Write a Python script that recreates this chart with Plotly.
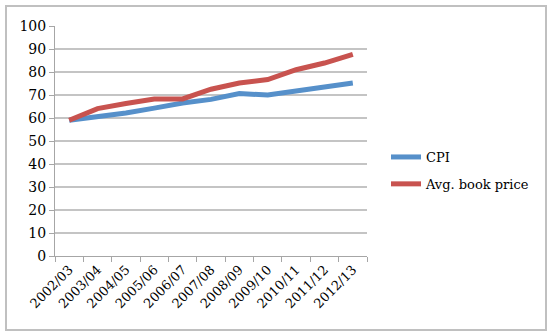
import plotly.graph_objects as go

years = ["2002/03", "2003/04", "2004/05", "2005/06", "2006/07", "2007/08",
         "2008/09", "2009/10", "2010/11", "2011/12", "2012/13"]
cpi = [59, 60.4, 62.2, 64.3, 66.5, 68.1, 70.6, 70, 71.6, 73.5, 75.2]
book_price = [59, 64.1, 66.3, 68.3, 68.3, 72.5, 75.2, 76.7, 81, 83.9, 87.7]
y_ticks = [0, 10, 20, 30, 40, 50, 60, 70, 80, 90, 100]

W, H = 553, 336
L, R, T, B = 55, 186, 26, 80
pw, ph = W - L - R, H - T - B

font_fam = "DejaVu Serif"

fig = go.Figure()
fig.add_trace(go.Scatter(x=years, y=cpi, name="CPI", mode="lines",
                         line=dict(color="#5690CA", width=5), legendgroup="a"))
fig.add_trace(go.Scatter(x=years, y=book_price, name="Avg. book price", mode="lines",
                         line=dict(color="#C8534F", width=5), legendgroup="b"))

def px_x(p):
    return (p - L) / pw

def px_y(p):
    return 1 - (p - T) / ph

fig.update_layout(
    width=W, height=H,
    margin=dict(l=L, r=R, t=T, b=B),
    paper_bgcolor="white", plot_bgcolor="white",
    font=dict(family=font_fam, size=13, color="black"),
    showlegend=True,
    legend=dict(x=px_x(386), y=px_y(142), xanchor="left", yanchor="top",
                traceorder="grouped", tracegroupgap=7,
                font=dict(family=font_fam, size=13, color="black"),
                bgcolor="rgba(0,0,0,0)", itemwidth=30),
    xaxis=dict(type="category", tickangle=-45, tickson="boundaries",
               ticks="outside", ticklen=5, tickcolor="#a6a6a6",
               showline=True, linecolor="#a6a6a6", linewidth=1,
               showgrid=False, tickfont=dict(family=font_fam, size=13),
               range=[-0.5, len(years) - 0.5]),
    yaxis=dict(range=[0, 100], tickvals=y_ticks, ticks="outside", ticklen=5,
               tickcolor="#a6a6a6", showline=True, linecolor="#a6a6a6", linewidth=1,
               showgrid=True, gridcolor="#c4c4c4", gridwidth=1.5,
               tickfont=dict(family=font_fam, size=14), zeroline=False),
    shapes=[dict(type="rect", xref="paper", yref="paper",
                 x0=px_x(6), x1=px_x(546), y0=px_y(330), y1=px_y(6),
                 line=dict(color="#c0c0c0", width=2), layer="below")],
)

fig.write_html("out.html")
